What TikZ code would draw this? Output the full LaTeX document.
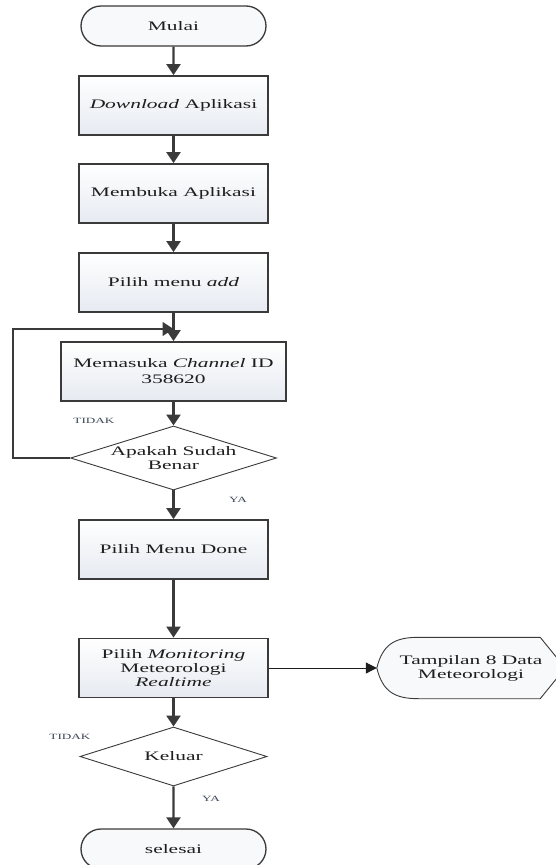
\documentclass[tikz,border=0pt]{standalone}
\usepackage{fontspec}
\setmainfont{Liberation Serif}[FakeStretch=1.65]
\usetikzlibrary{arrows.meta,positioning,shapes.geometric,shapes.misc,backgrounds,calc}
\definecolor{ink}{HTML}{1E1E1E}
\definecolor{edge}{HTML}{3A3A3A}
\definecolor{boxf}{HTML}{E6EAF1}
\definecolor{termf}{HTML}{F8F9FB}
\definecolor{lbl}{HTML}{3C4656}
\newcommand{\boxfont}{\fontsize{13}{14}\selectfont}
\tikzset{
  proc/.style={draw=edge,line width=1.8pt,top color=white,bottom color=boxf,minimum width=189pt,minimum height=59pt,align=center,inner sep=2pt,font=\boxfont,text=ink},
  wproc/.style={proc,minimum width=225pt},
  term/.style={rounded rectangle,draw=edge,line width=1.3pt,fill=termf,minimum width=189pt,minimum height=40pt,inner sep=2pt,font=\boxfont,text=ink},
  decide/.style={diamond,draw=edge,line width=0.9pt,fill=white,aspect=3.2,inner sep=0pt,align=center,font=\boxfont,text=ink},
  flow/.style={-{Triangle[length=11pt,width=14pt]},line width=2.2pt,edge},
  side/.style={-{Triangle[length=11pt,width=11pt]},line width=1pt,ink},
  lab/.style={font=\fontsize{8}{9}\selectfont,text=lbl,inner sep=0pt}
}

\begin{document}
\begin{tikzpicture}[x=1pt,y=-1pt]
\useasboundingbox (0,0) rectangle (555,865);
% ===================== main column =====================
\node[term] (mulai) at (173.5,26) {Mulai};
\node[proc] (unduh) at (173.5,105.5) {\textit{Download} Aplikasi};
\node[proc] (buka) at (173.5,193.5) {Membuka Aplikasi};
\node[proc] (tambah) at (173.5,282.5) {Pilih menu \textit{add}};
\node[wproc] (masuk) at (173.5,371.5) {Memasuka \textit{Channel} ID\\[2pt]358620};
\node[decide,minimum width=206pt,minimum height=64pt] (cek) at (173.5,458) {Apakah Sudah\\Benar};
\node[proc] (done) at (173.5,549.5) {Pilih Menu Done};
\node[proc] (monitor) at (173.5,668) {Pilih \textit{Monitoring}\\Meteorologi\\\textit{Realtime}};
\node[decide,minimum width=187pt,minimum height=59pt] (keluar) at (173.5,756.5) {Keluar};
\node[term] (selesai) at (173.5,849) {selesai};
\coordinate (balik) at (173.5,329);
\draw[flow] (mulai) -- (unduh);
\draw[flow] (unduh) -- (buka);
\draw[flow] (buka) -- (tambah);
\draw[flow] (tambah) -- (masuk);
\draw[flow] (masuk) -- (cek);
\draw[flow] (cek) -- (done);
\draw[flow] (done) -- (monitor);
\draw[flow] (monitor) -- (keluar);
\draw[flow] (keluar) -- (selesai);
% loop back when the ID is wrong
\draw[flow,line width=1.6pt] (cek.west) -- ++(-57,0) |- (balik);
\node[lab] (tidaka) at (94,421) {TIDAK};
\node[lab] (yaa) at (238,500) {YA};
\node[lab] (tidakb) at (70,737) {TIDAK};
\node[lab] (yab) at (211,799) {YA};
% ===================== display output =====================
\node[font=\boxfont,text=ink,align=center,minimum width=188pt,minimum height=61pt,inner sep=0pt] (tampil) at (471,668) {Tampilan 8 Data\\Meteorologi};
\begin{scope}[on background layer]
\draw[edge,line width=0.9pt,fill=termf] (tampil.west) .. controls +(6,-24) and +(-24,0) .. ([xshift=42pt]tampil.north west) -- ([xshift=-25pt]tampil.north east) -- (tampil.east) -- ([xshift=-25pt]tampil.south east) -- ([xshift=42pt]tampil.south west) .. controls +(-24,0) and +(6,24) .. (tampil.west) -- cycle;
\end{scope}
\draw[side] (monitor) -- (tampil);
\end{tikzpicture}
\end{document}
